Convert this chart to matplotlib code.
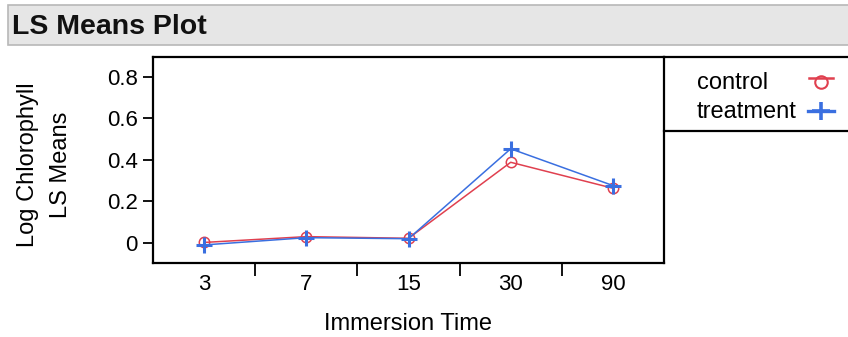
import matplotlib.pyplot as plt
from matplotlib.lines import Line2D
from matplotlib.patches import Rectangle

plt.rcParams['font.family'] = ['Liberation Sans', 'DejaVu Sans']

# LS means of log chlorophyll by immersion time
times = ['3', '7', '15', '30', '90']
control = [0.002, 0.030, 0.022, 0.388, 0.263]
treatment = [-0.010, 0.025, 0.020, 0.453, 0.276]

red = '#e0404f'
blue = '#3a6fe0'

W, H = 848, 337
fig = plt.figure(figsize=(W / 100, H / 100), dpi=100)

# header bar
fig.patches.append(Rectangle((8 / W, 1 - 45 / H), 845 / W, 40 / H, transform=fig.transFigure,
                             facecolor='#e6e6e6', edgecolor='#b8b8b8', linewidth=1.2))
fig.text(12 / W, 1 - 27 / H, 'LS Means Plot', fontsize=20.5, fontweight='bold',
         va='center', ha='left', color='#111111')

ax = fig.add_axes([153 / W, 1 - 263 / H, 511 / W, 206 / H])
x = list(range(len(times)))
ax.plot(x, control, color=red, lw=1.1, marker='o', ms=7.5, mfc='none', mec=red, mew=1.1)
ax.plot(x, treatment, color=blue, lw=1.1, marker='+', ms=11, mec=blue, mew=2.2)

ax.set_xlim(-0.5, 4.5)
ax.set_ylim(-0.097, 0.895)

# category labels at centres, tick marks at the boundaries
ax.set_xticks(x)
ax.set_xticklabels(times, fontsize=16)
ax.tick_params(axis='x', length=0, pad=8)
ax.set_xticks([0.5, 1.5, 2.5, 3.5], minor=True)
ax.tick_params(axis='x', which='minor', length=9, width=1.3, direction='out', color='black')

ax.set_yticks([0, 0.2, 0.4, 0.6, 0.8])
ax.set_yticklabels(['0', '0.2', '0.4', '0.6', '0.8'], fontsize=16)
ax.set_yticks([-0.1 + 0.1 * i for i in range(1, 9, 2)], minor=True)
ax.tick_params(axis='y', which='major', length=7, width=1.3, pad=4)
ax.tick_params(axis='y', which='minor', length=4, width=1.3)
for s in ax.spines.values():
    s.set_linewidth(1.6)

ax.set_xlabel('Immersion Time', fontsize=17, labelpad=13)
fig.text(28 / W, 1 - 165 / H, 'Log Chlorophyll', rotation=90, fontsize=17,
         ha='center', va='center')
fig.text(61 / W, 1 - 165 / H, 'LS Means', rotation=90, fontsize=17,
         ha='center', va='center')

# legend box to the right of the plot
fig.add_artist(Line2D([664 / W, 1.0], [1 - 57 / H, 1 - 57 / H], color='black', lw=1.6))
fig.add_artist(Line2D([664 / W, 1.0], [1 - 131 / H, 1 - 131 / H], color='black', lw=1.6))
fig.text(697 / W, 1 - 83 / H, 'control', fontsize=17, va='center', ha='left')
fig.text(697 / W, 1 - 112 / H, 'treatment', fontsize=17, va='center', ha='left')
fig.add_artist(Line2D([809 / W, 833 / W], [1 - 78 / H] * 2, color=red, lw=1.8))
fig.add_artist(Line2D([821 / W], [1 - 82 / H], color=red, marker='o', ms=9, mfc='none', mew=1.5))
fig.add_artist(Line2D([808 / W, 834 / W], [1 - 111 / H] * 2, color=blue, lw=2.4))
fig.add_artist(Line2D([821 / W], [1 - 111 / H], color=blue, marker='+', ms=13, mew=2.6))

fig.savefig('out.png', dpi=100)
